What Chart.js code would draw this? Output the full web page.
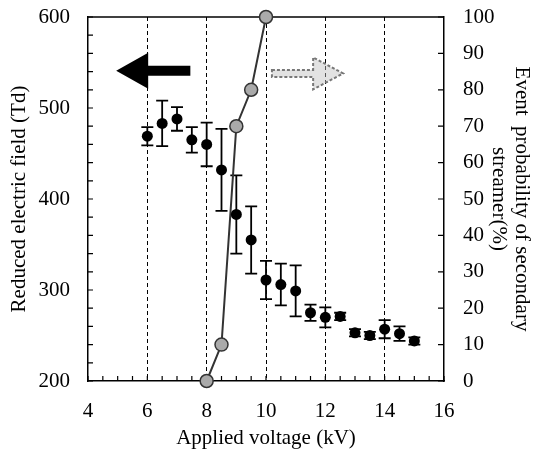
<!DOCTYPE html>
<html>
<head>
<meta charset="utf-8">
<script src="https://cdn.jsdelivr.net/npm/chart.js@4.4.0/dist/chart.umd.min.js"></script>
<style>
  html, body { margin: 0; padding: 0; background: #fff; }
  #wrap { width: 533px; height: 453px; }
</style>
</head>
<body>
<div id="wrap"><canvas id="chart" width="533" height="453"></canvas></div>
<script>
// reduced electric field (left axis) with error bars
const voltage = [6, 6.5, 7, 7.5, 8, 8.5, 9, 9.5, 10, 10.5, 11, 11.5, 12, 12.5, 13, 13.5, 14, 14.5, 15];
const field = [469, 483, 488, 465, 460, 432, 383, 355, 311, 306, 299, 275, 270, 271, 253, 250, 257, 252, 244];
const fieldErr = [10, 25, 13, 14, 24, 45, 43, 37, 21, 23, 28, 9, 11, 4, 4, 4, 10, 8, 4];

// event probability of secondary streamer (right axis)
const probVoltage = [8, 8.5, 9, 9.5, 10];
const probability = [0, 10, 70, 80, 100];

const xLabels = [4, 6, 8, 10, 12, 14, 16];
const dashedAt = [6, 8, 10, 12, 14];
const fieldLabels = [200, 300, 400, 500, 600];

// arrows pointing at their axis, in data units of x / left y
const leftArrow = { from: 7.45, to: 4.95, y: 541 };
const rightArrow = { from: 10.2, to: 12.6, y: 538 };

const FONT = '"Liberation Serif", "Times New Roman", serif';

const decorations = {
  id: 'decorations',
  beforeDatasetsDraw(chart) {
    const { ctx, chartArea: a, scales } = chart;
    const x = scales.x, y = scales.y, y2 = scales.y2;
    ctx.save();
    ctx.strokeStyle = '#000';
    ctx.lineWidth = 1.5;
    // top frame line
    ctx.beginPath();
    ctx.moveTo(a.left, a.top);
    ctx.lineTo(a.right, a.top);
    ctx.stroke();
    // inward ticks
    ctx.lineWidth = 1.2;
    ctx.beginPath();
    x.ticks.forEach(t => {
      const px = x.getPixelForValue(t.value);
      ctx.moveTo(px, a.bottom);
      ctx.lineTo(px, a.bottom - 5);
    });
    y.ticks.forEach(t => {
      const py = y.getPixelForValue(t.value);
      ctx.moveTo(a.left, py);
      ctx.lineTo(a.left + 5, py);
    });
    y2.ticks.forEach(t => {
      const py = y2.getPixelForValue(t.value);
      ctx.moveTo(a.right, py);
      ctx.lineTo(a.right - 6, py);
    });
    ctx.stroke();

    // error bars
    ctx.lineWidth = 1.8;
    ctx.beginPath();
    voltage.forEach((v, i) => {
      const px = x.getPixelForValue(v);
      const top = y.getPixelForValue(field[i] + fieldErr[i]);
      const bot = y.getPixelForValue(field[i] - fieldErr[i]);
      ctx.moveTo(px, top);
      ctx.lineTo(px, bot);
      ctx.moveTo(px - 6, top);
      ctx.lineTo(px + 6, top);
      ctx.moveTo(px - 6, bot);
      ctx.lineTo(px + 6, bot);
    });
    ctx.stroke();

    // solid black arrow -> left axis
    drawArrow(ctx, x.getPixelForValue(leftArrow.from), x.getPixelForValue(leftArrow.to),
      y.getPixelForValue(leftArrow.y), 5, 18, 32);
    ctx.fillStyle = '#000';
    ctx.fill();

    // dashed hollow arrow -> right axis
    drawArrow(ctx, x.getPixelForValue(rightArrow.from), x.getPixelForValue(rightArrow.to),
      y.getPixelForValue(rightArrow.y), 3.5, 16, 30);
    ctx.fillStyle = 'rgba(190,190,190,0.45)';
    ctx.fill();
    ctx.setLineDash([3, 2]);
    ctx.lineWidth = 2;
    ctx.strokeStyle = '#777';
    ctx.stroke();
    ctx.restore();
  }
};

function drawArrow(ctx, x0, x1, yc, shaft, half, head) {
  const dir = Math.sign(x1 - x0);
  const base = x1 - dir * head;
  ctx.beginPath();
  ctx.moveTo(x0, yc - shaft);
  ctx.lineTo(base, yc - shaft);
  ctx.lineTo(base, yc - half);
  ctx.lineTo(x1, yc);
  ctx.lineTo(base, yc + half);
  ctx.lineTo(base, yc + shaft);
  ctx.lineTo(x0, yc + shaft);
  ctx.closePath();
}

// fixed box sizes so the plot area sits where the reference has it
function fitVertical(width) {
  return s => {
    s.width = width;
    s.paddingTop = 0;
    s.paddingBottom = 0;
  };
}

const errorPoints = voltage.map((v, i) => ({ x: v, y: field[i] }));
const probPoints = probVoltage.map((v, i) => ({ x: v, y: probability[i] }));

new Chart(document.getElementById('chart'), {
  type: 'scatter',
  data: {
    datasets: [
      {
        label: 'Reduced electric field',
        data: errorPoints,
        yAxisID: 'y',
        pointRadius: 5.5,
        pointBackgroundColor: '#000',
        pointBorderColor: '#000',
        pointBorderWidth: 0,
        showLine: false,
      },
      {
        label: 'Event probability',
        data: probPoints,
        yAxisID: 'y2',
        showLine: true,
        borderColor: '#333',
        borderWidth: 2,
        pointRadius: 6.5,
        pointBackgroundColor: '#aaa',
        pointBorderColor: '#333',
        pointBorderWidth: 1.5,
        clip: false,
      },
    ],
  },
  options: {
    responsive: false,
    animation: false,
    devicePixelRatio: 1,
    layout: { padding: { top: 17, left: 0, right: 0, bottom: 0 } },
    plugins: { legend: { display: false }, tooltip: { enabled: false } },
    scales: {
      x: {
        type: 'linear',
        min: 4,
        max: 16,
        afterFit: s => { s.height = 72; },
        ticks: {
          stepSize: 0.5,
          autoSkip: false,
          maxRotation: 0,
          padding: 18,
          color: '#000',
          font: { family: FONT, size: 21 },
          callback: v => (xLabels.includes(v) ? String(v) : ''),
        },
        grid: {
          drawTicks: false,
          lineWidth: 1,
          color: c => (c.tick && dashedAt.includes(c.tick.value) ? '#000' : 'rgba(0,0,0,0)'),
        },
        border: { color: '#000', width: 1.5, dash: [4, 3] },
        title: {
          display: true,
          text: 'Applied voltage (kV)',
          color: '#000',
          font: { family: FONT, size: 21, lineHeight: 1.15 },
          padding: { top: 0, bottom: 2 },
        },
      },
      y: {
        position: 'left',
        min: 200,
        max: 600,
        afterFit: fitVertical(88),
        ticks: {
          stepSize: 20,
          autoSkip: false,
          padding: 18,
          color: '#000',
          font: { family: FONT, size: 21 },
          callback: v => (fieldLabels.includes(v) ? String(v) : ''),
        },
        grid: { display: false, drawTicks: false },
        border: { color: '#000', width: 1.5 },
        title: {
          display: true,
          text: 'Reduced electric field (Td)',
          color: '#000',
          font: { family: FONT, size: 21, lineHeight: 1.15 },
          padding: { top: 7, bottom: 0 },
        },
      },
      y2: {
        position: 'right',
        min: 0,
        max: 100,
        afterFit: fitVertical(89),
        ticks: {
          stepSize: 10,
          autoSkip: false,
          padding: 19,
          color: '#000',
          font: { family: FONT, size: 21 },
        },
        grid: { display: false, drawTicks: false },
        border: { color: '#000', width: 1.5 },
        title: {
          display: true,
          text: ['Event  probability of secondary', 'streamer(%)'],
          color: '#000',
          font: { family: FONT, size: 21, lineHeight: 1.1 },
          padding: { top: 0, bottom: 0 },
        },
      },
    },
  },
  plugins: [decorations],
});
</script>
</body>
</html>
